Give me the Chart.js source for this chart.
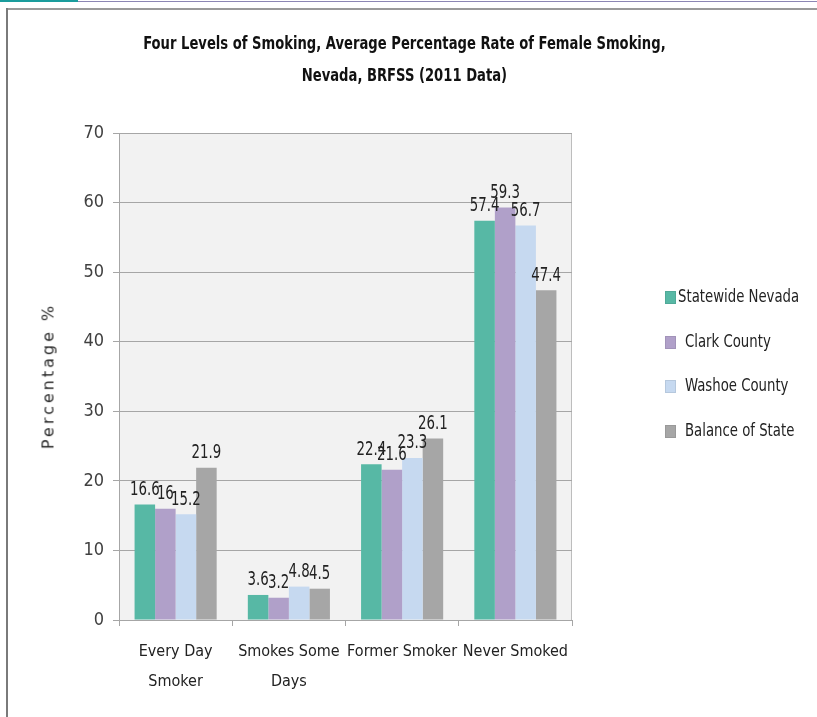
<!DOCTYPE html>
<html>
<head>
<meta charset="utf-8">
<script src="https://cdn.jsdelivr.net/npm/chart.js@4.4.1/dist/chart.umd.min.js"></script>
<style>
  html, body { margin: 0; padding: 0; background: #fff; }
  #wrap { position: relative; width: 817px; height: 717px; overflow: hidden; }
  #playground { position: absolute; left: 0; top: 0; }
  .narrow { font-family: 'DejaVu Sans Condensed', 'Liberation Sans Narrow', sans-serif; }
  #topTeal { position: absolute; left: 0; top: 0; width: 78px; height: 2px; background: #1a9c9c; }
  #topLine { position: absolute; left: 78px; top: 1px; right: 0; height: 1px; background: #8c86b4; }
  #frameTop { position: absolute; left: 6px; top: 8px; right: 0; height: 2px; background: #9a9a9a; }
  #frameLeft { position: absolute; left: 6px; top: 8px; bottom: 0; width: 2px; background: #7a7a7a; }
  #title { position: absolute; left: 0; width: 808px; top: 27px; text-align: center;
           font-size: 18.5px; font-weight: bold; line-height: 32px; color: #111;
           transform: scaleX(0.79); transform-origin: 406px 0; }
  #yTitle { position: absolute; left: 48px; top: 376px; transform: translate(-50%, -50%) rotate(-90deg);
            font-family: 'DejaVu Sans', sans-serif; font-size: 16px; letter-spacing: 3px;
            color: #2a2a2a; white-space: nowrap; }
  #legend { position: absolute; left: 665px; top: 285px; }
  .item { height: 44.5px; display: flex; align-items: flex-start; color: #222; }
  .item span.txt { display: inline-block; font-size: 18px; transform: scaleX(0.82); transform-origin: 0 0; white-space: nowrap; }
  .box { width: 11px; height: 13px; margin-right: 9px; margin-top: 6px; box-sizing: border-box; border: 1px solid rgba(0,0,0,0.08); }
</style>
</head>
<body>
<div id="wrap">
  <canvas id="playground" width="817" height="717"></canvas>
  <div id="topTeal"></div>
  <div id="topLine"></div>
  <div id="frameTop"></div>
  <div id="frameLeft"></div>
  <div id="title" class="narrow">Four Levels of Smoking, Average Percentage Rate of Female Smoking,<br>Nevada, BRFSS (2011 Data)</div>
  <div id="yTitle">Percentage %</div>
  <div id="legend" class="narrow"></div>
</div>
<script>
// chart data
const categories = [['Every Day', 'Smoker'], ['Smokes Some', 'Days'], 'Former Smoker', 'Never Smoked']
const seriesNames = ['Statewide Nevada', 'Clark County', 'Washoe County', 'Balance of State']
const statewide = [16.6, 3.6, 22.4, 57.4]
const clark = [16, 3.2, 21.6, 59.3]
const washoe = [15.2, 4.8, 23.3, 56.7]
const balance = [21.9, 4.5, 26.1, 47.4]
const yTicks = [0, 10, 20, 30, 40, 50, 60, 70]

const colors = ['#57b8a5', '#b0a0c9', '#c6d9f0', '#a6a6a6']
const narrow = "'DejaVu Sans Condensed', 'Liberation Sans Narrow', sans-serif"

const makeSet = (i, values) => ({
  label: seriesNames[i],
  data: values,
  backgroundColor: colors[i],
  borderWidth: 0,
  categoryPercentage: 0.725,
  barPercentage: 1,
})

// legend
const legendEl = document.getElementById('legend')
seriesNames.forEach((name, i) => {
  const row = document.createElement('div')
  row.className = 'item'
  row.innerHTML = `<span class="box" style="background:${colors[i]};${i === 0 ? 'margin-right:2px' : ''}"></span><span class="txt">${name}</span>`
  legendEl.appendChild(row)
})

// plot background + border
const plotBg = {
  id: 'plotBg',
  beforeDraw(chart) {
    const { ctx, chartArea: a } = chart
    ctx.save()
    ctx.fillStyle = '#f2f2f2'
    ctx.fillRect(a.left, a.top, a.right - a.left, a.bottom - a.top)
    ctx.strokeStyle = '#bdbdbd'
    ctx.lineWidth = 1
    ctx.strokeRect(a.left + 0.5, a.top + 0.5, a.right - a.left - 1, a.bottom - a.top)
    ctx.restore()
  },
}

// value labels above bars (squeezed to look like the narrow original font)
const valueLabels = {
  id: 'valueLabels',
  afterDatasetsDraw(chart) {
    const { ctx } = chart
    chart.data.datasets.forEach((ds, i) => {
      chart.getDatasetMeta(i).data.forEach((bar, j) => {
        ctx.save()
        ctx.translate(bar.x, bar.y - 5)
        ctx.scale(0.78, 1)
        ctx.font = '19px ' + narrow
        ctx.fillStyle = '#222'
        ctx.textAlign = 'center'
        ctx.textBaseline = 'bottom'
        ctx.fillText(String(ds.data[j]), 0, 0)
        ctx.restore()
      })
    })
  },
}

const ctx = document.getElementById('playground').getContext('2d')
const myChart = new Chart(ctx, {
  type: 'bar',
  data: {
    labels: categories,
    datasets: [makeSet(0, statewide), makeSet(1, clark), makeSet(2, washoe), makeSet(3, balance)],
  },
  options: {
    responsive: false,
    animation: false,
    layout: { padding: { left: 20, right: 245, top: 133, bottom: 17 } },
    scales: {
      y: {
        min: 0,
        max: 70,
        afterFit: (s) => { s.width = 99 },
        afterBuildTicks: (s) => { s.ticks = yTicks.map((v) => ({ value: v })) },
        grid: { color: '#a6a6a6', tickLength: 6 },
        border: { color: '#a6a6a6' },
        ticks: {
          padding: 9,
          color: '#404040',
          font: { family: narrow, size: 18 },
        },
      },
      x: {
        afterFit: (s) => { s.height = 80 },
        grid: { offset: true, drawOnChartArea: false, color: '#a6a6a6', tickLength: 6 },
        border: { color: '#a6a6a6' },
        ticks: {
          padding: 11,
          maxRotation: 0,
          autoSkip: false,
          color: '#222',
          font: { family: narrow, size: 16, lineHeight: 1.85 },
        },
      },
    },
    plugins: {
      legend: { display: false },
      tooltip: { enabled: false },
    },
  },
  plugins: [plotBg, valueLabels],
})
</script>
</body>
</html>
